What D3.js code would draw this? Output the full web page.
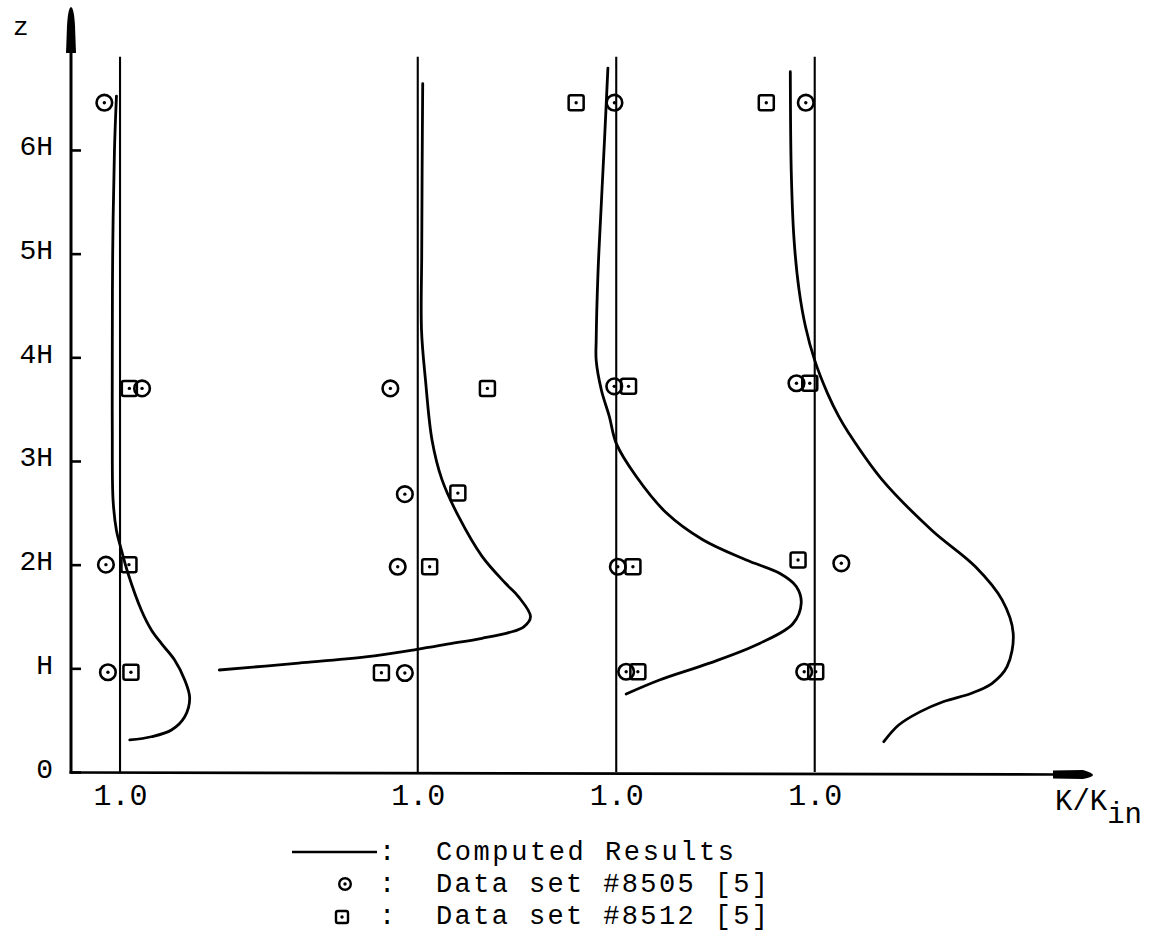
<!DOCTYPE html>
<html>
<head>
<meta charset="utf-8">
<script src="https://cdn.jsdelivr.net/npm/d3@7"></script>
<style>
  html, body { margin: 0; padding: 0; background: #fff; }
  svg { display: block; }
  text { font-family: "Liberation Mono", "Courier New", monospace; fill: #000; }
</style>
</head>
<body>
<svg id="chart" width="1155" height="936"></svg>
<script>
// Height axis ticks (in units of H)
const zTickValues = [0, 1, 2, 3, 4, 5, 6];
const zTickLabels = ["0", "H", "2H", "3H", "4H", "5H", "6H"];

// Each profile is drawn shifted along the K/K_in axis by this amount
const stationShift = [0, 1.5, 2.5, 3.5];
const kTickLabels = ["1.0", "1.0", "1.0", "1.0"];
const referenceTop = 6.9;

// Computed results: [z/H, K/K_in] for each profile
const computed1 = [
  [6.52, 0.982], [6.0, 0.972], [5.0, 0.963], [4.0, 0.961], [3.3, 0.961],
  [2.62, 0.965], [2.33, 0.982], [2.17, 1.003], [1.917, 1.04], [1.563, 1.107],
  [1.37, 1.158], [1.24, 1.208], [1.08, 1.275], [0.887, 1.326], [0.711, 1.351],
  [0.533, 1.326], [0.405, 1.259], [0.34, 1.158], [0.309, 1.049]
];
const computed2 = [
  [6.64, 1.025], [5.8, 1.022], [5.0, 1.02], [4.26, 1.019], [3.78, 1.039],
  [3.2, 1.072], [2.82, 1.122], [2.46, 1.207], [2.08, 1.324], [1.82, 1.442],
  [1.69, 1.508], [1.498, 1.568], [1.40, 1.534], [1.344, 1.458], [1.29, 1.324],
  [1.235, 1.156], [1.183, 0.996], [1.11, 0.737], [1.05, 0.40], [0.984, 0.0]
];
const computed3 = [
  [6.79, 0.958], [6.1, 0.941], [5.45, 0.924], [4.81, 0.908], [4.17, 0.899],
  [3.97, 0.899], [3.685, 0.925], [3.43, 0.965], [3.17, 1.0], [2.85, 1.101],
  [2.50, 1.252], [2.24, 1.436], [2.045, 1.655], [1.917, 1.823], [1.79, 1.907],
  [1.63, 1.932], [1.43, 1.89], [1.24, 1.722], [1.05, 1.47], [0.887, 1.218],
  [0.752, 1.05]
];
const computed4 = [
  [6.755, 0.877], [5.775, 0.882], [5.13, 0.896], [4.65, 0.921], [4.30, 0.953],
  [3.97, 1.0], [3.65, 1.065], [3.43, 1.121], [3.27, 1.171], [2.82, 1.339],
  [2.33, 1.591], [1.98, 1.81], [1.66, 1.944], [1.338, 2.0], [1.016, 1.969],
  [0.856, 1.894], [0.76, 1.79], [0.68, 1.65], [0.58, 1.53],
  [0.453, 1.423], [0.292, 1.348]
];
const computedProfiles = [computed1, computed2, computed3, computed4];

// Measurements: [profile, z/H, K/K_in]
const set8505 = [
  [0, 6.456, 0.921], [0, 3.70, 1.111], [0, 2.0, 0.929], [0, 0.962, 0.939],
  [1, 3.70, 0.862], [1, 2.68, 0.935], [1, 1.98, 0.899], [1, 0.955, 0.935],
  [2, 6.456, 0.991], [2, 3.72, 0.99], [2, 1.98, 1.008], [2, 0.967, 1.05],
  [3, 6.456, 0.955], [3, 3.75, 0.908], [3, 2.013, 1.134], [3, 0.967, 0.947]
];
const set8512 = [
  [0, 3.70, 1.047], [0, 2.0, 1.045], [0, 0.962, 1.055],
  [1, 3.70, 1.351], [1, 2.69, 1.202], [1, 1.98, 1.06], [1, 0.958, 0.817],
  [2, 6.456, 0.798], [2, 3.72, 1.062], [2, 1.98, 1.084], [2, 0.967, 1.109],
  [3, 6.456, 0.756], [3, 3.75, 0.975], [3, 2.045, 0.916], [3, 0.967, 1.005]
];

const legendLabels = ["Computed Results", "Data set #8505 [5]", "Data set #8512 [5]"];

const svg = d3.select("#chart");
const x = d3.scaleLinear().domain([-0.247, 4.902]).range([71, 1093]);
const y = d3.scaleLinear().domain([0, 7]).range([772, 46.3]);
const px = (p, k) => x(stationShift[p] + k - 1);
const x0 = x(x.domain()[0]);

// ---- vertical (z) axis ----
const yAxis = svg.append("g")
  .attr("transform", `translate(${x0},0)`)
  .call(d3.axisLeft(y)
    .tickValues(zTickValues)
    .tickFormat((d, i) => zTickLabels[i])
    .tickSizeInner(-10).tickSizeOuter(0).tickPadding(18))
  .attr("font-family", null).attr("font-size", 28);
yAxis.select(".domain").remove();
yAxis.selectAll(".tick line").attr("stroke", "#000").attr("stroke-width", 2.6);
yAxis.selectAll(".tick text").attr("dy", "5px");

svg.append("line")
  .attr("x1", x0).attr("x2", x0)
  .attr("y1", y(0) + 1.5).attr("y2", 50)
  .attr("stroke", "#000").attr("stroke-width", 3);
svg.append("path")
  .attr("d", `M${x0 - 5},53 L${x0 - 4},26 Q${x0 - 3},8 ${x0},7 Q${x0 + 3},8 ${x0 + 4},26 L${x0 + 5},53 Z`)
  .attr("fill", "#000");
svg.append("text").attr("x", 13).attr("y", 35).attr("font-size", 26).text("z");

// ---- horizontal (K/K_in) axis ----
const xAxis = svg.append("g")
  .attr("transform", `translate(0,${y(0)})`)
  .call(d3.axisBottom(x)
    .tickValues(stationShift)
    .tickFormat((d, i) => kTickLabels[i])
    .tickSize(0).tickPadding(12))
  .attr("font-family", null).attr("font-size", 30);
xAxis.select(".domain").remove();

svg.append("line")
  .attr("x1", x0 - 1.5).attr("x2", 1056)
  .attr("y1", y(0) + 0.5).attr("y2", y(0) + 2.5)
  .attr("stroke", "#000").attr("stroke-width", 2.6);
svg.append("path")
  .attr("d", `M1053,${y(0) - 1.5} L1083,${y(0) - 2} Q1093,${y(0) + 1} 1093,${y(0) + 3} Q1093,${y(0) + 5} 1083,${y(0) + 7} L1053,${y(0) + 6.5} Z`)
  .attr("fill", "#000");

const kLabel = svg.append("text").attr("x", 1055).attr("y", 810).attr("font-size", 29);
kLabel.append("tspan").text("K/K");
kLabel.append("tspan").attr("dy", 13).text("in");

// ---- reference lines at K/K_in = 1.0 ----
svg.append("g").selectAll("line")
  .data(stationShift)
  .join("line")
  .attr("x1", (d, i) => px(i, 1)).attr("x2", (d, i) => px(i, 1))
  .attr("y1", y(0)).attr("y2", y(referenceTop))
  .attr("stroke", "#000").attr("stroke-width", 2.1);

// ---- computed profiles ----
computedProfiles.forEach((pts, p) => {
  const line = d3.line()
    .x(d => px(p, d[1]))
    .y(d => y(d[0]))
    .curve(d3.curveCatmullRom.alpha(0.5));
  svg.append("path")
    .attr("d", line(pts))
    .attr("fill", "none")
    .attr("stroke", "#000")
    .attr("stroke-width", 2.8)
    .attr("stroke-linecap", "round")
    .attr("stroke-linejoin", "round");
});

// ---- measured data ----
function drawCircleMark(g, cx, cy, r, sw) {
  g.append("circle").attr("cx", cx).attr("cy", cy).attr("r", r)
    .attr("fill", "none").attr("stroke", "#000").attr("stroke-width", sw);
  g.append("circle").attr("cx", cx).attr("cy", cy).attr("r", 1.7).attr("fill", "#000");
}
function drawSquareMark(g, cx, cy, s, sw) {
  g.append("rect").attr("x", cx - s / 2).attr("y", cy - s / 2)
    .attr("width", s).attr("height", s).attr("rx", 2)
    .attr("fill", "none").attr("stroke", "#000").attr("stroke-width", sw);
  g.append("circle").attr("cx", cx).attr("cy", cy).attr("r", 1.7).attr("fill", "#000");
}

const marks = svg.append("g");
set8505.forEach(([p, z, k]) => drawCircleMark(marks, px(p, k), y(z), 7.8, 2.6));
set8512.forEach(([p, z, k]) => drawSquareMark(marks, px(p, k), y(z), 15, 2.5));

// ---- legend ----
const legend = svg.append("g").attr("font-size", 27);
const rowY = [860, 892, 924];
const rowWidth = [298, 332, 332];
legend.append("line")
  .attr("x1", 292).attr("x2", 377).attr("y1", 852).attr("y2", 852)
  .attr("stroke", "#000").attr("stroke-width", 2.6);
drawCircleMark(legend, 345, 884, 5.8, 2.4);
drawSquareMark(legend, 342, 917, 12, 2.4);
legendLabels.forEach((t, i) => {
  legend.append("text").attr("x", 387).attr("y", rowY[i]).attr("text-anchor", "middle").text(":");
  legend.append("text").attr("x", 436).attr("y", rowY[i])
    .attr("textLength", rowWidth[i]).attr("lengthAdjust", "spacing")
    .text(t);
});
</script>
</body>
</html>
